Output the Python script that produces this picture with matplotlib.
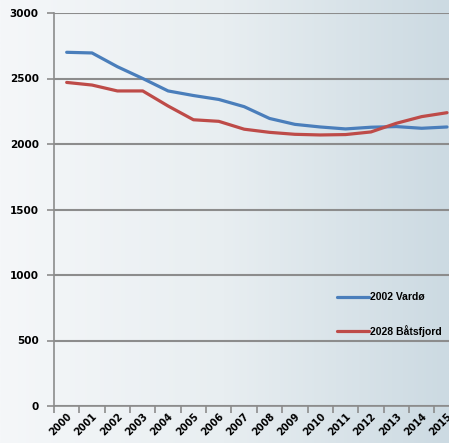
import matplotlib.pyplot as plt
import numpy as np

years = [str(y) for y in range(2000, 2016)]
vardo = [2700, 2695, 2590, 2500, 2405, 2370, 2340, 2285, 2195, 2150, 2130, 2115, 2128, 2133, 2120, 2130]
batsfjord = [2470, 2450, 2405, 2405, 2290, 2185, 2173, 2113, 2089, 2074, 2069, 2072, 2092, 2158, 2209, 2239]
yticks = [0, 500, 1000, 1500, 2000, 2500, 3000]

W, H = 449, 443
fig = plt.figure(figsize=(W / 100, H / 100), dpi=100)

# gradient background over the whole figure
bg = fig.add_axes([0, 0, 1, 1], zorder=0)
grad = np.linspace(0, 1, 256)[None, :]
cmap = plt.matplotlib.colors.LinearSegmentedColormap.from_list("bg", ["#f5f7f9", "#e8eef1", "#ccdae2"])
bg.imshow(grad, aspect="auto", cmap=cmap, extent=[0, 1, 0, 1])
bg.axis("off")

left, right, top, bottom = 54, 449, 13, 406
ax = fig.add_axes([left / W, 1 - bottom / H, (right - left) / W, (bottom - top) / H], zorder=1)
ax.patch.set_alpha(0)

x = np.arange(len(years))
ax.plot(x, vardo, color="#4a7ebb", lw=2.3, label="2002 Vardø", solid_capstyle="round")
ax.plot(x, batsfjord, color="#be4b48", lw=2.3, label="2028 Båtsfjord", solid_capstyle="round")

ax.set_yticks(yticks)
ax.set_xticks(x)
ax.set_xticklabels(years, rotation=45, ha="right", rotation_mode="anchor", fontsize=7, fontweight="bold")
ax.set_xticks(np.arange(len(years) + 1) - 0.5, minor=True)
# limits after ticks, so the tick setters do not widen the view
ax.set_ylim(0, 3000)
ax.set_xlim(-0.5, 15 + 2 / 25.4)
ax.tick_params(axis="x", which="major", length=0, pad=4)
ax.tick_params(axis="x", which="minor", length=5, color="#8c8c8c", width=1.2, direction="out")
ax.tick_params(axis="y", length=5, color="#8c8c8c", width=1.2, labelsize=7.5, pad=6)
for lab in ax.get_yticklabels():
    lab.set_fontweight("bold")

ax.grid(axis="y", color="#8c8c8c", lw=1.5)
ax.set_axisbelow(True)
for s in ["top", "right"]:
    ax.spines[s].set_visible(False)
for s in ["left", "bottom"]:
    ax.spines[s].set_color("#8c8c8c")
    ax.spines[s].set_linewidth(1.2)

ax.legend(loc="upper left", bbox_to_anchor=(328 / W, 1 - 283 / H), bbox_transform=fig.transFigure,
          frameon=False, handlelength=3.0, handletextpad=0.1, labelspacing=2.15,
          prop={"family": "Liberation Sans", "weight": "bold", "size": 7.5})

fig.savefig("out.png", dpi=100)
